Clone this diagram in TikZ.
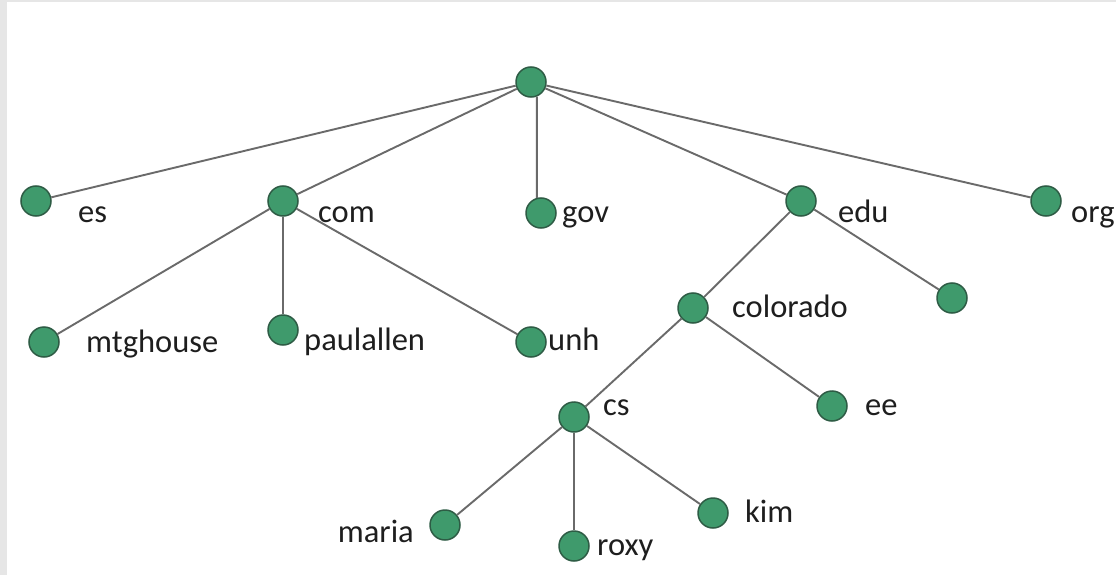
\documentclass[tikz,border=0pt]{standalone}
\usepackage{fontspec}
\setmainfont{Carlito}
\usepackage{xcolor}
\usepackage{tikz}
\usetikzlibrary{
    shapes.geometric,
    positioning,
    calc
}
\definecolor{dnsgreen}{HTML}{3F9A6C}
\definecolor{dnsdark}{HTML}{2E5C45}
\definecolor{dnsgray}{HTML}{6A6A6A}
\definecolor{dnstext}{HTML}{1E1E1E}
\definecolor{dnsframe}{HTML}{E6E6E6}
\tikzset{
    % Tree node (green dot)
    dnsnode/.style={
        circle,
        draw=dnsdark,
        fill=dnsgreen,
        line width=1.5pt,
        minimum size=30pt,
        inner sep=0pt
    },
    % Label next to a dot
    dnslabel/.style={
        font=\fontsize{32.5}{38}\selectfont,
        text=dnstext,
        anchor=base west,
        inner sep=0pt
    },
    % Tree edge
    dnsedge/.style={
        draw=dnsgray,
        line width=1.9pt
    }
}
\begin{document}
\begin{tikzpicture}[x=1pt, y=-1pt]

    % Frame
    \useasboundingbox (0,0) rectangle (1116,575);
    \fill[dnsframe] (0,0) rectangle (1116,575);
    \fill[white] (7,2) rectangle (1116,575);

    % Root
    \node[dnsnode] (root) at (531,82) {};

    % Top level domains
    \node[dnsnode] (es) at (36,201) {};
    \node[dnsnode] (com) at (283,201) {};
    \node[dnsnode] (gov) at (541,213) {};
    \node[dnsnode] (edu) at (801,201) {};
    \node[dnsnode] (org) at (1046,201) {};

    % Second level
    \node[dnsnode] (mtghouse) at (44,342) {};
    \node[dnsnode] (paulallen) at (283,330) {};
    \node[dnsnode] (unh) at (531,342) {};
    \node[dnsnode] (colorado) at (693,308) {};
    \node[dnsnode] (edu-leaf) at (952,298) {};

    % Third level
    \node[dnsnode] (cs) at (574,417) {};
    \node[dnsnode] (ee) at (832,406) {};

    % Hosts
    \node[dnsnode] (maria) at (445,525) {};
    \node[dnsnode] (roxy) at (574,546) {};
    \node[dnsnode] (kim) at (713,513) {};

    % Labels
    \node[dnslabel] (lbl-es) at (78,222) {es};
    \node[dnslabel] (lbl-com) at (318,222) {com};
    \node[dnslabel] (lbl-gov) at (562,222) {gov};
    \node[dnslabel] (lbl-edu) at (838,222) {edu};
    \node[dnslabel] (lbl-org) at (1071,222) {org};
    \node[dnslabel] (lbl-mtghouse) at (86,352) {mtghouse};
    \node[dnslabel] (lbl-paulallen) at (304,350) {paulallen};
    \node[dnslabel] (lbl-unh) at (548,350) {unh};
    \node[dnslabel] (lbl-colorado) at (732,317) {colorado};
    \node[dnslabel] (lbl-cs) at (603,415) {cs};
    \node[dnslabel] (lbl-ee) at (865,415) {ee};
    \node[dnslabel, anchor=base east] (lbl-maria) at (414,542) {maria};
    \node[dnslabel] (lbl-roxy) at (597,555) {roxy};
    \node[dnslabel] (lbl-kim) at (745,522) {kim};

    % Edges from root
    \draw[dnsedge] (root) -- (es);
    \draw[dnsedge] (root) -- (com);
    \draw[dnsedge] (root.-68) -- (gov.105);
    \draw[dnsedge] (root) -- (edu);
    \draw[dnsedge] (root) -- (org);

    % Edges below com and edu
    \draw[dnsedge] (com) -- (mtghouse);
    \draw[dnsedge] (com) -- (paulallen);
    \draw[dnsedge] (com) -- (unh);
    \draw[dnsedge] (edu) -- (colorado);
    \draw[dnsedge] (edu) -- (edu-leaf);

    % Edges below colorado and cs
    \draw[dnsedge] (colorado) -- (cs);
    \draw[dnsedge] (colorado) -- (ee);
    \draw[dnsedge] (cs) -- (maria);
    \draw[dnsedge] (cs) -- (roxy);
    \draw[dnsedge] (cs) -- (kim);

\end{tikzpicture}
\end{document}
